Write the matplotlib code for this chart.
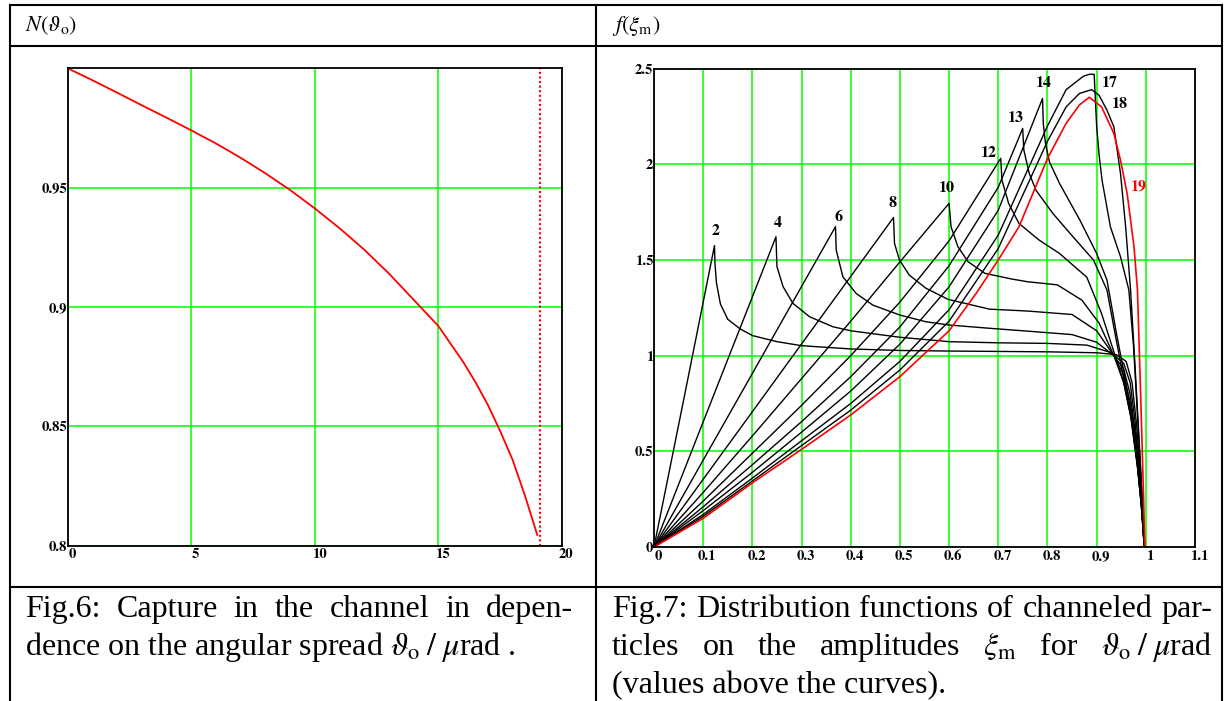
import matplotlib
matplotlib.use('Agg')
import matplotlib.pyplot as plt
from matplotlib.lines import Line2D
from matplotlib.transforms import ScaledTranslation

# Fig.6: capture N vs angular spread
theta_o = [0, 1, 2, 3, 4, 5, 6, 7, 8, 9, 10, 11, 12, 13, 14, 15, 16, 16.5, 17, 17.5, 18, 18.5, 19]
n_capt = [1.000, 0.9950, 0.9898, 0.9845, 0.9793, 0.9740, 0.9685, 0.9625, 0.9560, 0.9490, 0.9413,
          0.9330, 0.9240, 0.9140, 0.9030, 0.8920, 0.8770, 0.8685, 0.8590, 0.8480, 0.8360, 0.8210, 0.8045]
theta_cut = 19.1

# Fig.7: distribution functions f(xi_m), one curve per theta_o
xi_2 = [0, 0.06, 0.123, 0.124, 0.127, 0.135, 0.15, 0.175, 0.2, 0.25, 0.3, 0.4, 0.5, 0.6, 0.7, 0.8, 0.9, 0.94, 0.96, 0.972, 0.982, 0.99, 0.997]
f_2 = [0, 0.765, 1.575, 1.48, 1.38, 1.27, 1.19, 1.14, 1.105, 1.073, 1.052, 1.035, 1.027, 1.024, 1.022, 1.02, 1.015, 1.005, 0.97, 0.86, 0.62, 0.32, 0.0]

xi_4 = [0, 0.1, 0.2, 0.248, 0.25, 0.2625, 0.2826, 0.3165, 0.3637, 0.4, 0.5, 0.6, 0.7, 0.8, 0.88, 0.93, 0.955, 0.968, 0.978, 0.987, 0.993, 0.997]
f_4 = [0, 0.654, 1.307, 1.621, 1.465, 1.36, 1.273, 1.203, 1.151, 1.13, 1.096, 1.073, 1.067, 1.064, 1.055, 1.015, 0.96, 0.86, 0.66, 0.4, 0.17, 0.0]

xi_6 = [0, 0.1, 0.2, 0.3, 0.369, 0.3705, 0.384, 0.411, 0.445, 0.5, 0.553, 0.6, 0.682, 0.76, 0.85, 0.9, 0.935, 0.955, 0.968, 0.98, 0.99, 0.997]
f_6 = [0, 0.454, 0.907, 1.361, 1.674, 1.552, 1.412, 1.325, 1.264, 1.212, 1.177, 1.16, 1.143, 1.128, 1.11, 1.07, 1.0, 0.93, 0.8, 0.57, 0.28, 0.0]

xi_8 = [0, 0.1, 0.2, 0.3, 0.4, 0.487, 0.489, 0.499, 0.519, 0.553, 0.598, 0.682, 0.76, 0.85, 0.9, 0.935, 0.955, 0.968, 0.98, 0.99, 0.997]
f_8 = [0, 0.354, 0.707, 1.061, 1.414, 1.722, 1.587, 1.5, 1.421, 1.352, 1.294, 1.243, 1.233, 1.215, 1.13, 1.0, 0.9, 0.76, 0.55, 0.27, 0.0]

xi_10 = [0, 0.1, 0.2, 0.3, 0.4, 0.5, 0.6, 0.604, 0.618, 0.6385, 0.673, 0.728, 0.76, 0.82, 0.87, 0.905, 0.935, 0.955, 0.97, 0.982, 0.99, 0.997]
f_10 = [0, 0.285, 0.58, 0.88, 1.18, 1.49, 1.796, 1.673, 1.569, 1.491, 1.43, 1.40, 1.386, 1.37, 1.29, 1.17, 1.0, 0.86, 0.68, 0.45, 0.24, 0.0]

xi_12 = [0, 0.1, 0.2, 0.3, 0.4, 0.5, 0.6, 0.705, 0.7075, 0.721, 0.742, 0.783, 0.8245, 0.88, 0.91, 0.935, 0.955, 0.97, 0.983, 0.991, 0.997]
f_12 = [0, 0.24, 0.49, 0.74, 1.0, 1.28, 1.6, 2.031, 1.917, 1.796, 1.691, 1.604, 1.534, 1.41, 1.22, 1.02, 0.86, 0.67, 0.42, 0.22, 0.0]

xi_13 = [0, 0.1, 0.2, 0.3, 0.4, 0.5, 0.6, 0.7, 0.7496, 0.752, 0.763, 0.7765, 0.811, 0.852, 0.8935, 0.921, 0.94, 0.955, 0.97, 0.983, 0.991, 0.997]
f_13 = [0, 0.21, 0.43, 0.655, 0.89, 1.15, 1.47, 1.88, 2.187, 2.074, 1.952, 1.865, 1.743, 1.621, 1.50, 1.343, 1.08, 0.88, 0.68, 0.42, 0.22, 0.0]

xi_14 = [0, 0.1, 0.2, 0.3, 0.4, 0.5, 0.6, 0.7, 0.79, 0.7915, 0.796, 0.804, 0.8245, 0.866, 0.9, 0.921, 0.94, 0.955, 0.97, 0.983, 0.991, 0.997]
f_14 = [0, 0.19, 0.39, 0.6, 0.815, 1.06, 1.36, 1.76, 2.344, 2.214, 2.109, 2.013, 1.90, 1.708, 1.534, 1.395, 1.12, 0.92, 0.7, 0.44, 0.22, 0.0]

xi_17 = [0, 0.1, 0.2, 0.3, 0.4, 0.5, 0.6, 0.7, 0.8, 0.838, 0.873, 0.886, 0.895, 0.897, 0.9, 0.905, 0.911, 0.928, 0.9485, 0.9655, 0.975, 0.985, 0.992, 0.997]
f_17 = [0, 0.17, 0.36, 0.555, 0.75, 0.97, 1.24, 1.63, 2.2, 2.39, 2.46, 2.471, 2.47, 2.36, 2.2, 2.05, 1.917, 1.673, 1.517, 1.343, 1.05, 0.6, 0.28, 0.0]

xi_18 = [0, 0.1, 0.2, 0.3, 0.4, 0.5, 0.6, 0.7, 0.8, 0.838, 0.865, 0.89, 0.905, 0.921, 0.935, 0.9485, 0.959, 0.969, 0.978, 0.988, 0.994, 0.998]
f_18 = [0, 0.16, 0.345, 0.53, 0.715, 0.925, 1.18, 1.56, 2.12, 2.30, 2.37, 2.39, 2.36, 2.283, 2.196, 1.952, 1.673, 1.343, 0.95, 0.48, 0.2, 0.0]

xi_19 = [0, 0.1, 0.2, 0.3, 0.4, 0.5, 0.6, 0.655, 0.7, 0.742, 0.8, 0.838, 0.865, 0.885, 0.91, 0.935, 0.9485, 0.962, 0.976, 0.983, 0.99, 0.995, 0.998]
f_19 = [0, 0.15, 0.335, 0.51, 0.69, 0.89, 1.13, 1.325, 1.5, 1.673, 2.03, 2.214, 2.31, 2.35, 2.3, 2.161, 2.022, 1.848, 1.569, 1.343, 0.75, 0.3, 0.0]

curve_names = ['2', '4', '6', '8', '10', '12', '13', '14', '17', '18', '19']
curves = [(xi_2, f_2), (xi_4, f_4), (xi_6, f_6), (xi_8, f_8), (xi_10, f_10), (xi_12, f_12),
          (xi_13, f_13), (xi_14, f_14), (xi_17, f_17), (xi_18, f_18), (xi_19, f_19)]
# label offset from each curve's maximum, in pixels (dx, dy)
label_offsets = [(1.5, 15), (1.3, 13.4), (2.8, 10), (-1, 14.7), (-1.7, 15.7), (-12.3, 5),
                 (-6.4, 10.1), (1.5, 15.7), (20, -8.4), (28, -14.5), (50, -89.6)]

W, H = 1232, 701
GRID = '#00ff00'
SERIF = ['Liberation Serif', 'STIXGeneral', 'DejaVu Serif']


def fx(x):
    return x / W


def fy(y):
    return 1 - y / H


def put_line(fig, words, x0, x1, y, size, justify=True):
    """Write one caption line; justified lines spread words from x0 to x1 (pixels)."""
    if not justify:
        fig.text(fx(x0), fy(y), ' '.join(words), fontsize=size, va='baseline', ha='left')
        return
    r = fig.canvas.get_renderer()
    ts = [fig.text(0, fy(y), w, fontsize=size, va='baseline', ha='left') for w in words]
    widths = [t.get_window_extent(r).width for t in ts]
    gap = (x1 - x0 - sum(widths)) / (len(words) - 1)
    x = x0
    for t, w in zip(ts, widths):
        t.set_x(fx(x))
        x += w + gap


def style_axes(ax, fig):
    ax.tick_params(length=0, labelsize=10.5)
    ax.tick_params(axis='x', pad=2)
    ax.tick_params(axis='y', pad=0.5)
    for lab in ax.get_xticklabels() + ax.get_yticklabels():
        lab.set_fontweight('bold')
        lab.set_family('STIXGeneral')
    for lab in ax.get_xticklabels():
        lab.set_transform(lab.get_transform() + ScaledTranslation(3 / 72, 0, fig.dpi_scale_trans))
    for s in ax.spines.values():
        s.set_color('black')
        s.set_linewidth(1.3)
        s.set_zorder(5)
    ax.grid(True, color=GRID, linewidth=1.1)
    ax.set_axisbelow(True)


def main():
    plt.rcParams['font.family'] = SERIF
    plt.rcParams['mathtext.fontset'] = 'stix'

    fig = plt.figure(figsize=(W / 100, H / 100), dpi=100)

    # table frame
    for x in (10, 596, 1222):
        fig.add_artist(Line2D([fx(x), fx(x)], [fy(5), fy(H)], color='black', lw=1.5, transform=fig.transFigure))
    for y in (5, 46, 587):
        fig.add_artist(Line2D([fx(10), fx(1222)], [fy(y), fy(y)], color='black', lw=1.5, transform=fig.transFigure))

    fig.text(fx(25), fy(31), r'$N(\vartheta_\mathrm{o})$', fontsize=16, va='baseline')
    fig.text(fx(612), fy(31), r'$f(\xi_\mathrm{m})$', fontsize=16, va='baseline')

    # left panel
    ax1 = fig.add_axes([fx(67.7), fy(545.7), (562 - 67.7) / W, (545.7 - 68.3) / H])
    ax1.plot(theta_o, n_capt, color='red', lw=1.3, zorder=3)
    ax1.plot([theta_cut, theta_cut], [0.8, 1.0], color='red', lw=1.5, linestyle=(0, (1, 1.2)), zorder=3)
    ax1.set_xlim(0, 20)
    ax1.set_ylim(0.8, 1.0)
    ax1.set_xticks([0, 5, 10, 15, 20])
    ax1.set_xticklabels(['0', '5', '10', '15', '20'])
    ax1.set_yticks([0.8, 0.85, 0.9, 0.95])
    ax1.set_yticklabels(['0.8', '0.85', '0.9', '0.95'])
    style_axes(ax1, fig)

    # right panel
    ax2 = fig.add_axes([fx(654), fy(547), (1195 - 654) / W, (547 - 68.6) / H])
    for name, (xi, f), (dx, dy) in zip(curve_names, curves, label_offsets):
        col = 'red' if name == '19' else 'black'
        ax2.plot(xi, f, color=col, lw=1.2 if col == 'red' else 1.0, zorder=3 if col == 'red' else 2)
        k = max(range(len(f)), key=lambda i: f[i])
        ax2.annotate(name, xy=(xi[k], f[k]), xytext=(dx * 0.72, dy * 0.72), textcoords='offset points',
                     ha='center', va='center', fontsize=11.5, fontweight='bold', color=col,
                     family='STIXGeneral')
    ax2.set_xlim(0, 1.1)
    ax2.set_ylim(0, 2.5)
    xt = [0, 0.1, 0.2, 0.3, 0.4, 0.5, 0.6, 0.7, 0.8, 0.9, 1.0, 1.1]
    ax2.set_xticks(xt)
    ax2.set_xticklabels(['0', '0.1', '0.2', '0.3', '0.4', '0.5', '0.6', '0.7', '0.8', '0.9', '1', '1.1'])
    ax2.set_yticks([0, 0.5, 1, 1.5, 2, 2.5])
    ax2.set_yticklabels(['0', '0.5', '1', '1.5', '2', '2.5'])
    style_axes(ax2, fig)

    # captions
    cap = 23
    unit = r'$\vartheta_\mathrm{o}\;/\;\mu$rad'
    put_line(fig, ['Fig.6:', 'Capture', 'in', 'the', 'channel', 'in', 'depen-'], 25, 573, 617, cap)
    put_line(fig, ['dence on the angular spread', unit, '.'], 25, 573, 655, cap, justify=False)
    put_line(fig, ['Fig.7:', 'Distribution', 'functions', 'of', 'channeled', 'par-'], 612, 1212, 617, cap)
    put_line(fig, ['ticles', 'on', 'the', 'amplitudes', r'$\xi_\mathrm{m}$', 'for', unit], 612, 1212, 655, cap)
    put_line(fig, ['(values above the curves).'], 612, 1212, 693, cap, justify=False)

    fig.savefig('out.png', dpi=100)


if __name__ == '__main__':
    main()
